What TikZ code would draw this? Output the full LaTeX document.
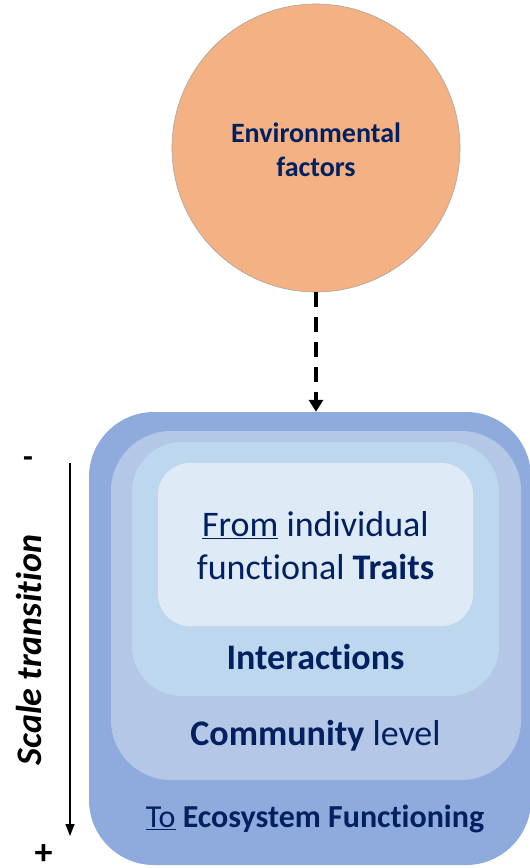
\documentclass[tikz,border=0pt]{standalone}
\usepackage{fontspec}
\setmainfont[Ligatures=CommonOff]{Carlito}
\usetikzlibrary{arrows.meta}
\definecolor{navy}{HTML}{002060}
\definecolor{envfill}{HTML}{F4B183}
\definecolor{lvlA}{HTML}{8FAADC}
\definecolor{lvlB}{HTML}{B4C7E7}
\definecolor{lvlC}{HTML}{BDD7EE}
\definecolor{lvlD}{HTML}{DEEBF7}
\tikzset{
  level/.style={draw=none, rounded corners=#1, inner sep=0pt},
  lbl/.style={text=navy, font=\fontsize{36}{43}\selectfont, align=center, inner sep=0pt},
}
\begin{document}
\begin{tikzpicture}[x=1pt,y=-1pt]
\useasboundingbox (0,0) rectangle (530,868);
% environmental factors
\node[circle, fill=envfill, draw=gray!70, line width=0.6pt, minimum size=288pt, inner sep=0pt] (env) at (316,148) {};
\node[text=navy, font=\fontsize{28}{34}\selectfont\bfseries, align=center, inner sep=0pt] (envtxt) at (316,150) {Environmental\\factors};
% nested levels
\node[level=65pt, fill=lvlA, minimum width=442pt, minimum height=453pt] (outer) at (310,638.5) {};
\node[level=60pt, fill=lvlB, minimum width=410pt, minimum height=349pt] (comm) at (316,605.5) {};
\node[level=50pt, fill=lvlC, minimum width=367pt, minimum height=254pt] (inter) at (315.5,569) {};
\node[level=32pt, fill=lvlD, minimum width=315pt, minimum height=163pt] (trait) at (315.5,544.5) {};
% level labels
\node[lbl] (ttrait) at (315.5,546) {\underline{From} individual\\functional \textbf{Traits}};
\node[lbl] (tinter) at (315.5,657) {\textbf{Interactions}};
\node[lbl] (tcomm) at (315.5,736) {\textbf{Community} level};
\node[lbl, font=\fontsize{32}{38}\selectfont] (teco) at (315,819) {\underline{To} \textbf{Ecosystem Functioning}};
% dashed influence arrow
\draw[line width=4pt, dash pattern=on 15pt off 10pt, -{Triangle[width=14pt,length=12pt]}] (env.south) -- (env.south |- outer.north);
% scale axis
\coordinate (ax0) at (70,463);
\coordinate (ax1) at (70,836);
\draw[line width=1.5pt, -{Triangle[width=9pt,length=12pt]}] (ax0) -- (ax1);
\node[font=\fontsize{36}{42}\selectfont\bfseries\itshape, rotate=90, inner sep=0pt] (scale) at (29.5,650) {Scale transition};
\node[font=\fontsize{32}{36}\selectfont\bfseries, inner sep=0pt] (minus) at (28,462) {-};
\node[font=\fontsize{36}{40}\selectfont\bfseries, inner sep=0pt] (plus) at (43.5,855) {+};
\end{tikzpicture}
\end{document}
